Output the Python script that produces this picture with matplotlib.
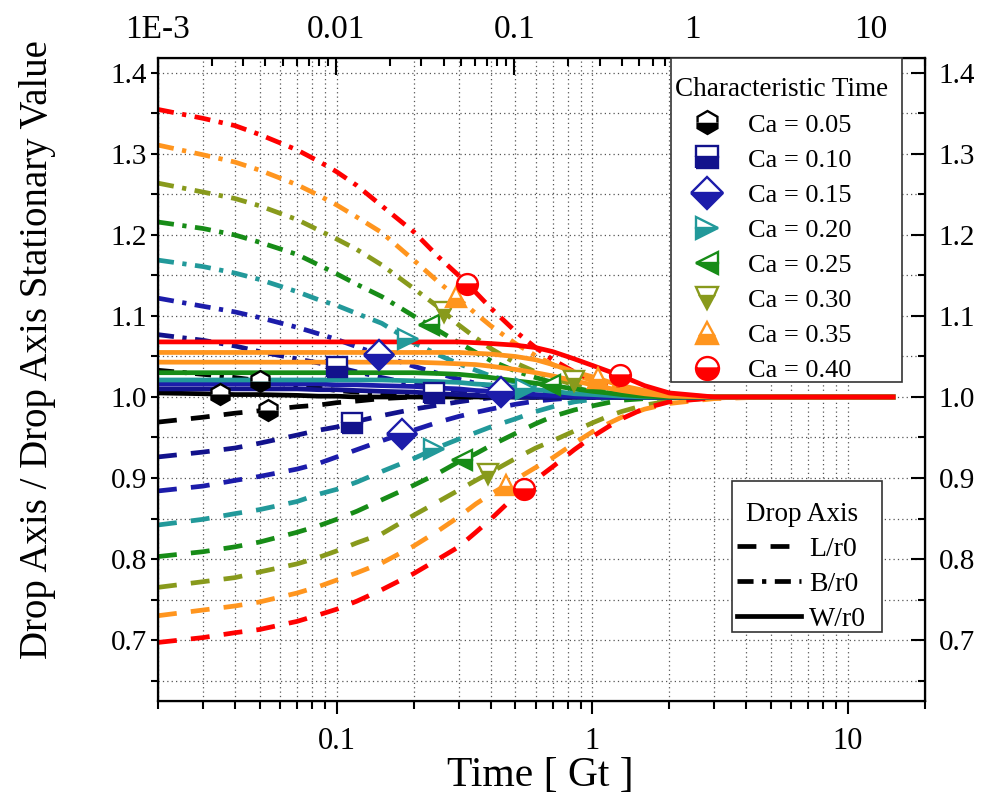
import numpy as np
import matplotlib
matplotlib.use("Agg")
import matplotlib.pyplot as plt
from matplotlib.lines import Line2D
from matplotlib.patches import Rectangle
from matplotlib.ticker import FixedLocator, FixedFormatter, LogLocator, NullFormatter, MultipleLocator

plt.rcParams['font.family'] = ['Liberation Serif', 'DejaVu Serif']

# ---- data -------------------------------------------------------------
ca_labels = ["Ca = 0.05", "Ca = 0.10", "Ca = 0.15", "Ca = 0.20",
             "Ca = 0.25", "Ca = 0.30", "Ca = 0.35", "Ca = 0.40"]
colors = ['#000000', '#12128c', '#1c1caa', '#22999a',
          '#178c17', '#889a1c', '#ff951e', '#ff0000']
# solid W/r0 lines (the Ca = 0.30 one is drawn in orange)
w_colors = ['#000000', '#12128c', '#1c1caa', '#22999a',
            '#178c17', '#ff951e', '#ff951e', '#ff0000']
markers = ['h', 's', 'D', '>', '<', 'v', '^', 'o']

# time in units of Gt
t = [0.02, 0.03, 0.04, 0.05, 0.07, 0.085, 0.1, 0.12, 0.15, 0.2, 0.25, 0.3, 0.35,
     0.4, 0.5, 0.6, 0.7, 0.85, 1.0, 1.15, 1.3, 1.6, 2.0, 3.0, 5.0, 15.0]

# L/r0 (dashed)
L_005 = [0.969, 0.975, 0.980, 0.983, 0.988, 0.990, 0.993, 0.995, 0.998, 1.000, 1.000, 1.000, 1.000,
         1.000, 1.000, 1.000, 1.000, 1.000, 1.000, 1.000, 1.000, 1.000, 1.000, 1.000, 1.000, 1.000]
L_010 = [0.926, 0.932, 0.937, 0.943, 0.953, 0.959, 0.963, 0.970, 0.977, 0.985, 0.990, 0.994, 0.997,
         0.999, 1.000, 1.000, 1.000, 1.000, 1.000, 1.000, 1.000, 1.000, 1.000, 1.000, 1.000, 1.000]
L_015 = [0.884, 0.890, 0.897, 0.902, 0.911, 0.918, 0.926, 0.935, 0.946, 0.959, 0.969, 0.976, 0.981,
         0.985, 0.991, 0.995, 0.997, 0.999, 1.000, 1.000, 1.000, 1.000, 1.000, 1.000, 1.000, 1.000]
L_020 = [0.842, 0.849, 0.856, 0.861, 0.871, 0.880, 0.886, 0.895, 0.908, 0.924, 0.938, 0.948, 0.956,
         0.963, 0.973, 0.982, 0.988, 0.994, 0.997, 0.999, 1.000, 1.000, 1.000, 1.000, 1.000, 1.000]
L_025 = [0.803, 0.809, 0.815, 0.821, 0.833, 0.841, 0.849, 0.859, 0.873, 0.891, 0.906, 0.920, 0.930,
         0.940, 0.955, 0.967, 0.976, 0.984, 0.989, 0.993, 0.996, 0.998, 0.999, 1.000, 1.000, 1.000]
L_030 = [0.765, 0.772, 0.777, 0.784, 0.794, 0.802, 0.810, 0.820, 0.831, 0.854, 0.871, 0.885, 0.897,
         0.907, 0.924, 0.937, 0.946, 0.958, 0.968, 0.976, 0.982, 0.990, 0.995, 0.999, 1.000, 1.000]
L_035 = [0.730, 0.737, 0.742, 0.747, 0.758, 0.766, 0.774, 0.783, 0.795, 0.816, 0.835, 0.852, 0.868,
         0.880, 0.898, 0.913, 0.925, 0.943, 0.957, 0.967, 0.975, 0.985, 0.992, 0.998, 1.000, 1.000]
L_040 = [0.697, 0.703, 0.709, 0.713, 0.723, 0.731, 0.738, 0.748, 0.762, 0.782, 0.800, 0.815, 0.833,
         0.849, 0.878, 0.898, 0.914, 0.935, 0.951, 0.963, 0.973, 0.986, 0.994, 0.999, 1.000, 1.000]

# B/r0 (dash-dot)
B_005 = [1.033, 1.028, 1.024, 1.020, 1.014, 1.011, 1.008, 1.006, 1.004, 1.002, 1.001, 1.000, 1.000,
         1.000, 1.000, 1.000, 1.000, 1.000, 1.000, 1.000, 1.000, 1.000, 1.000, 1.000, 1.000, 1.000]
B_010 = [1.077, 1.070, 1.063, 1.056, 1.047, 1.042, 1.037, 1.031, 1.024, 1.016, 1.011, 1.008, 1.005,
         1.004, 1.002, 1.001, 1.000, 1.000, 1.000, 1.000, 1.000, 1.000, 1.000, 1.000, 1.000, 1.000]
B_015 = [1.122, 1.112, 1.105, 1.098, 1.086, 1.078, 1.071, 1.062, 1.051, 1.038, 1.029, 1.022, 1.017,
         1.013, 1.008, 1.005, 1.003, 1.002, 1.001, 1.000, 1.000, 1.000, 1.000, 1.000, 1.000, 1.000]
B_020 = [1.169, 1.161, 1.153, 1.145, 1.130, 1.120, 1.113, 1.103, 1.091, 1.067, 1.052, 1.041, 1.033,
         1.026, 1.018, 1.013, 1.010, 1.006, 1.004, 1.003, 1.002, 1.001, 1.000, 1.000, 1.000, 1.000]
B_025 = [1.216, 1.208, 1.200, 1.191, 1.176, 1.163, 1.152, 1.139, 1.124, 1.100, 1.082, 1.067, 1.055,
         1.045, 1.032, 1.024, 1.018, 1.011, 1.007, 1.005, 1.003, 1.001, 1.000, 1.000, 1.000, 1.000]
B_030 = [1.264, 1.253, 1.245, 1.236, 1.219, 1.206, 1.195, 1.182, 1.163, 1.134, 1.111, 1.089, 1.073,
         1.060, 1.042, 1.031, 1.023, 1.015, 1.010, 1.007, 1.005, 1.002, 1.001, 1.000, 1.000, 1.000]
B_035 = [1.311, 1.299, 1.290, 1.280, 1.262, 1.249, 1.237, 1.222, 1.203, 1.169, 1.142, 1.121, 1.103,
         1.088, 1.066, 1.051, 1.040, 1.028, 1.020, 1.014, 1.010, 1.005, 1.002, 1.000, 1.000, 1.000]
B_040 = [1.355, 1.344, 1.335, 1.324, 1.305, 1.291, 1.278, 1.261, 1.236, 1.204, 1.173, 1.150, 1.129,
         1.110, 1.081, 1.061, 1.046, 1.031, 1.021, 1.015, 1.010, 1.005, 1.002, 1.000, 1.000, 1.000]

# W/r0 (solid)
W_005 = [1.005, 1.004, 1.003, 1.003, 1.002, 1.001, 1.001, 1.000, 1.000, 1.000, 1.000, 1.000, 1.000,
         1.000, 1.000, 1.000, 1.000, 1.000, 1.000, 1.000, 1.000, 1.000, 1.000, 1.000, 1.000, 1.000]
W_010 = [1.010, 1.010, 1.010, 1.010, 1.010, 1.009, 1.009, 1.008, 1.007, 1.006, 1.004, 1.003, 1.002,
         1.001, 1.000, 1.000, 1.000, 1.000, 1.000, 1.000, 1.000, 1.000, 1.000, 1.000, 1.000, 1.000]
W_015 = [1.016, 1.016, 1.016, 1.016, 1.016, 1.016, 1.015, 1.015, 1.014, 1.013, 1.011, 1.010, 1.008,
         1.007, 1.005, 1.003, 1.002, 1.001, 1.000, 1.000, 1.000, 1.000, 1.000, 1.000, 1.000, 1.000]
W_020 = [1.021, 1.021, 1.021, 1.021, 1.021, 1.021, 1.021, 1.021, 1.021, 1.020, 1.019, 1.018, 1.016,
         1.015, 1.012, 1.009, 1.007, 1.004, 1.003, 1.002, 1.001, 1.000, 1.000, 1.000, 1.000, 1.000]
W_025 = [1.030, 1.030, 1.030, 1.030, 1.030, 1.030, 1.030, 1.030, 1.030, 1.030, 1.029, 1.028, 1.026,
         1.024, 1.020, 1.017, 1.014, 1.010, 1.007, 1.005, 1.003, 1.001, 1.000, 1.000, 1.000, 1.000]
W_030 = [1.043, 1.043, 1.043, 1.043, 1.043, 1.043, 1.043, 1.043, 1.043, 1.043, 1.042, 1.041, 1.040,
         1.038, 1.034, 1.030, 1.026, 1.020, 1.015, 1.011, 1.008, 1.004, 1.001, 1.000, 1.000, 1.000]
W_035 = [1.055, 1.055, 1.055, 1.055, 1.055, 1.055, 1.055, 1.055, 1.055, 1.055, 1.055, 1.055, 1.054,
         1.053, 1.050, 1.046, 1.040, 1.031, 1.025, 1.019, 1.014, 1.008, 1.003, 1.000, 1.000, 1.000]
W_040 = [1.068, 1.068, 1.068, 1.068, 1.068, 1.068, 1.068, 1.068, 1.068, 1.068, 1.068, 1.068, 1.067,
         1.066, 1.064, 1.061, 1.056, 1.047, 1.039, 1.032, 1.026, 1.014, 1.005, 1.000, 1.000, 1.000]

L_curves = [L_005, L_010, L_015, L_020, L_025, L_030, L_035, L_040]
B_curves = [B_005, B_010, B_015, B_020, B_025, B_030, B_035, B_040]
W_curves = [W_005, W_010, W_015, W_020, W_025, W_030, W_035, W_040]

# characteristic times marked on each curve
tc_L = [0.054, 0.115, 0.18, 0.24, 0.31, 0.39, 0.46, 0.54]
tc_B = [0.050, 0.10, 0.146, 0.19, 0.23, 0.263, 0.293, 0.324]
tc_W = [0.035, 0.24, 0.44, 0.55, 0.68, 0.85, 1.05, 1.28]

top_ticks = [1e-3, 1e-2, 1e-1, 1, 10]
top_labels = ["1E-3", "0.01", "0.1", "1", "10"]
y_ticks = [0.7, 0.8, 0.9, 1.0, 1.1, 1.2, 1.3, 1.4]
y_labels = ["0.7", "0.8", "0.9", "1.0", "1.1", "1.2", "1.3", "1.4"]

# ---- figure -----------------------------------------------------------
W_PX, H_PX = 985, 800
fig = plt.figure(figsize=(W_PX / 100, H_PX / 100), dpi=100)
ax = fig.add_axes([158 / W_PX, 1 - 701 / H_PX, (925 - 158) / W_PX, (701 - 58) / H_PX])

LW = 3.4
dash_L = (0, (4.0, 3.0))
dash_B = (0, (3.4, 1.8, 0.9, 1.8))

tt = np.array(t)
for i in range(8):
    c = colors[i]
    ax.plot(tt, L_curves[i], color=c, lw=LW, ls=dash_L, zorder=2 + i * 0.01)
    ax.plot(tt, B_curves[i], color=c, lw=LW, ls=dash_B, zorder=2 + i * 0.01)
for i in range(8):
    ax.plot(tt, W_curves[i], color=w_colors[i], lw=LW, ls='-', zorder=3 + i * 0.01)

logt = np.log10(tt)
for i in range(8):
    for tc, curve in ((tc_L[i], L_curves[i]), (tc_B[i], B_curves[i]), (tc_W[i], W_curves[i])):
        yv = np.interp(np.log10(tc), logt, curve)
        ax.plot([tc], [yv], ls='none', marker=markers[i], ms=15,
                mfc=colors[i], mfcalt='white', fillstyle='bottom',
                mec=colors[i], mew=1.7, zorder=5 + i * 0.01)

ax.set_xscale('log')
ax.set_xlim(0.02, 20)
ax.set_ylim(0.6247, 1.4185)

ax.xaxis.set_major_locator(FixedLocator([0.1, 1, 10]))
ax.xaxis.set_major_formatter(FixedFormatter(["0.1", "1", "10"]))
ax.xaxis.set_minor_locator(LogLocator(base=10, subs=np.arange(2, 10)))
ax.xaxis.set_minor_formatter(NullFormatter())
ax.yaxis.set_major_locator(FixedLocator(y_ticks))
ax.yaxis.set_major_formatter(FixedFormatter(y_labels))
ax.yaxis.set_minor_locator(MultipleLocator(0.05))

ax.grid(True, which='both', ls=(0, (1, 2.5)), color='#555555', lw=0.9, zorder=0)
ax.set_axisbelow(True)

ax.tick_params(axis='x', which='major', direction='out', length=9, width=1.5, labelsize=22, pad=10)
ax.tick_params(axis='x', which='minor', direction='out', length=6, width=1.5)
ax.tick_params(axis='y', which='major', direction='out', length=5, width=1.5, labelsize=21, pad=3)
ax.tick_params(axis='y', which='minor', direction='out', length=5, width=1.5)
for s in ax.spines.values():
    s.set_linewidth(1.6)

# right axis: same scale, ticks pointing inward
axr = ax.twinx()
axr.set_ylim(ax.get_ylim())
axr.yaxis.set_major_locator(FixedLocator(y_ticks))
axr.yaxis.set_major_formatter(FixedFormatter(y_labels))
axr.yaxis.set_minor_locator(MultipleLocator(0.05))
axr.tick_params(axis='y', which='major', direction='in', length=10, width=1.5, labelsize=21, pad=10)
axr.tick_params(axis='y', which='minor', direction='in', length=5, width=1.5)

# top axis: second time scale
axt = ax.twiny()
axt.set_xscale('log')
axt.set_xlim(1e-3, 20.1)
axt.xaxis.set_major_locator(FixedLocator(top_ticks))
axt.xaxis.set_major_formatter(FixedFormatter(top_labels))
axt.xaxis.set_minor_locator(LogLocator(base=10, subs=np.arange(2, 10)))
axt.xaxis.set_minor_formatter(NullFormatter())
axt.tick_params(axis='x', which='major', direction='in', length=12, width=1.5, labelsize=24, pad=9)
axt.tick_params(axis='x', which='minor', direction='in', length=6, width=1.5)

fig.text(540 / W_PX, 1 - 776 / H_PX, "Time [ Gt ]", fontsize=30, ha='center', va='center')
fig.text(38 / W_PX, 1 - 350 / H_PX, "Drop Axis / Drop Axis Stationary Value",
         fontsize=28, rotation=90, ha='center', va='center')

# legend 1: characteristic-time markers
fig.add_artist(Rectangle((671 / W_PX, 1 - 382 / H_PX), (902 - 671) / W_PX, (382 - 58) / H_PX,
                         transform=fig.transFigure, facecolor='white', edgecolor='#333333',
                         lw=1.2, zorder=10))
h1 = [Line2D([], [], ls='none', marker=markers[i], ms=16.5, mfc=colors[i], mfcalt='white',
             fillstyle='bottom', mec=colors[i], mew=1.7) for i in range(8)]
leg1 = fig.legend(h1, ca_labels, title="Characteristic Time", loc='upper left',
                  bbox_to_anchor=(675 / W_PX, 1 - 76.5 / H_PX), bbox_transform=fig.transFigure,
                  fontsize=19, title_fontsize=19.5, frameon=False, borderpad=0,
                  labelspacing=0.44, handletextpad=0.35, handlelength=2.4,
                  borderaxespad=0, alignment='left')
leg1.set_zorder(11)

# legend 2: line styles
fig.add_artist(Rectangle((732 / W_PX, 1 - 632 / H_PX), (882 - 732) / W_PX, (632 - 481) / H_PX,
                         transform=fig.transFigure, facecolor='white', edgecolor='#333333',
                         lw=1.2, zorder=10))
h2 = [Line2D([], [], color='black', lw=LW, ls=dash_L),
      Line2D([], [], color='black', lw=LW, ls=dash_B),
      Line2D([], [], color='black', lw=LW, ls='-')]
leg2 = fig.legend(h2, ["L/r0", "B/r0", "W/r0"], title="Drop Axis", loc='upper left',
                  bbox_to_anchor=(737 / W_PX, 1 - 502 / H_PX), bbox_transform=fig.transFigure,
                  fontsize=20, title_fontsize=19.5, frameon=False, borderpad=0,
                  labelspacing=0.34, handletextpad=0.3, handlelength=2.3,
                  borderaxespad=0, alignment='center')
leg2.set_zorder(11)

fig.savefig("out.png", dpi=100)
